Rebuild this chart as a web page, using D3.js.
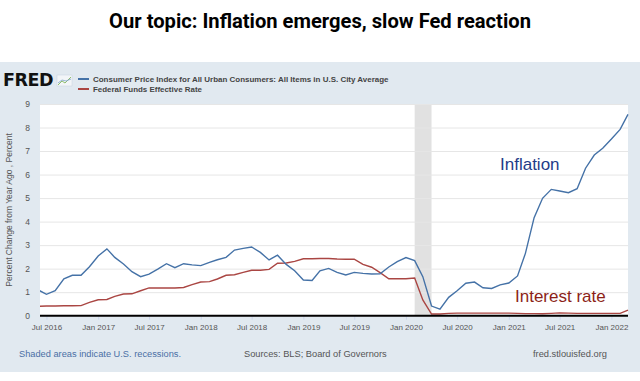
<!DOCTYPE html>
<html><head><meta charset="utf-8">
<script src="https://cdn.jsdelivr.net/npm/d3@7/dist/d3.min.js"></script>
<style>html,body{margin:0;padding:0;background:#fff;} svg{display:block;font-family:"Liberation Sans",Arial,sans-serif;}</style>
</head><body><svg id="c" width="640" height="381"></svg>
<script>
const months = [
 "2016-06","2016-07","2016-08","2016-09","2016-10","2016-11","2016-12",
 "2017-01","2017-02","2017-03","2017-04","2017-05","2017-06","2017-07","2017-08","2017-09","2017-10","2017-11","2017-12",
 "2018-01","2018-02","2018-03","2018-04","2018-05","2018-06","2018-07","2018-08","2018-09","2018-10","2018-11","2018-12",
 "2019-01","2019-02","2019-03","2019-04","2019-05","2019-06","2019-07","2019-08","2019-09","2019-10","2019-11","2019-12",
 "2020-01","2020-02","2020-03","2020-04","2020-05","2020-06","2020-07","2020-08","2020-09","2020-10","2020-11","2020-12",
 "2021-01","2021-02","2021-03","2021-04","2021-05","2021-06","2021-07","2021-08","2021-09","2021-10","2021-11","2021-12",
 "2022-01","2022-02","2022-03"];
const cpiYoY = [
 1.10,0.91,1.06,1.57,1.72,1.72,2.08,
 2.54,2.84,2.48,2.20,1.87,1.66,1.77,1.98,2.21,2.04,2.21,2.16,
 2.13,2.27,2.38,2.48,2.79,2.86,2.92,2.69,2.37,2.57,2.18,1.91,
 1.52,1.50,1.91,2.01,1.84,1.73,1.84,1.80,1.77,1.78,2.07,2.30,
 2.47,2.34,1.66,0.41,0.28,0.78,1.06,1.38,1.43,1.19,1.16,1.31,
 1.39,1.69,2.65,4.17,4.99,5.37,5.30,5.23,5.40,6.27,6.83,7.12,
 7.51,7.92,8.56];
const fedFunds = [
 0.40,0.41,0.41,0.42,0.42,0.43,0.57,
 0.68,0.69,0.82,0.92,0.93,1.06,1.18,1.18,1.18,1.18,1.20,1.32,
 1.43,1.45,1.56,1.72,1.74,1.84,1.93,1.93,1.97,2.23,2.24,2.31,
 2.42,2.42,2.43,2.43,2.41,2.40,2.40,2.18,2.06,1.83,1.57,1.57,
 1.57,1.60,0.67,0.07,0.07,0.10,0.11,0.11,0.11,0.11,0.11,0.11,
 0.11,0.10,0.09,0.09,0.08,0.10,0.12,0.11,0.10,0.10,0.10,0.10,
 0.10,0.10,0.24];
const recession = ["2020-02","2020-04"];
const xTickLabels = ["Jul 2016","Jan 2017","Jul 2017","Jan 2018","Jul 2018","Jan 2019","Jul 2019","Jan 2020","Jul 2020","Jan 2021","Jul 2021","Jan 2022"];
const yTicks = [0,1,2,3,4,5,6,7,8,9];
const seriesNames = ["Consumer Price Index for All Urban Consumers: All Items in U.S. City Average","Federal Funds Effective Rate"];

const parseM = d3.timeParse("%Y-%m");
const parseT = d3.timeParse("%b %Y");
const svg = d3.select("#c");
const L=40,R=628,T=104,B=315.7;

svg.append("rect").attr("x",0).attr("y",62).attr("width",640).attr("height",310).attr("fill","#e1e9f0");
svg.append("rect").attr("x",L).attr("y",T).attr("width",R-L).attr("height",B-T).attr("fill","#fff");

const x = d3.scaleTime().domain([new Date(2016,5,8), new Date(2022,2,1)]).range([L,R]);
const y = d3.scaleLinear().domain([0,9]).range([B,T]);

function fit(sel,w){const n=sel.node();const cw=n.getComputedTextLength();const fs=+sel.attr("font-size");sel.attr("font-size",fs*w/cw);}

// title
const title = svg.append("text").attr("x",320).attr("y",28).attr("text-anchor","middle")
  .attr("font-size",20).attr("font-weight","bold").attr("fill","#000")
  .attr("font-family","Roboto,'Liberation Sans',Arial,sans-serif")
  .text("Our topic: Inflation emerges, slow Fed reaction");
fit(title,422);

// recession
svg.append("rect").attr("x",x(parseM(recession[0]))).attr("y",T)
  .attr("width",x(parseM(recession[1]))-x(parseM(recession[0]))).attr("height",B-T).attr("fill","#e1e1e1");

// grid
const yAxis = d3.axisLeft(y).tickValues(yTicks).tickSize(-(R-L)).tickFormat(d3.format("d")).tickPadding(10);
const gy = svg.append("g").attr("transform",`translate(${L},0)`).call(yAxis);
gy.select(".domain").remove();
gy.selectAll(".tick line").attr("stroke","#e6e6e6").attr("stroke-width",1);
gy.selectAll(".tick text").attr("font-size",8.5).attr("fill","#555").attr("font-family","Liberation Sans, Arial, sans-serif");

// x axis
const xAxis = d3.axisBottom(x).tickValues(xTickLabels.map(parseT)).tickFormat(d3.timeFormat("%b %Y")).tickSize(4).tickPadding(5);
const gx = svg.append("g").attr("transform",`translate(0,${B})`).call(xAxis);
gx.select(".domain").remove();
gx.selectAll(".tick line").attr("stroke","#ccd6eb");
gx.selectAll(".tick text").attr("font-size",8).attr("fill","#555").attr("font-family","Liberation Sans, Arial, sans-serif");

svg.append("defs").append("clipPath").attr("id","clip").append("rect").attr("x",L).attr("y",T-5).attr("width",R-L+1).attr("height",B-T+5);

const line = d3.line().x((d,i)=>x(parseM(months[i]))).y(d=>y(d));
svg.append("path").datum(fedFunds).attr("d",line).attr("fill","none").attr("stroke","#aa4643").attr("stroke-width",1.4).attr("clip-path","url(#clip)");
svg.append("path").datum(cpiYoY).attr("d",line).attr("fill","none").attr("stroke","#4572a7").attr("stroke-width",1.4).attr("clip-path","url(#clip)");

// baseline
svg.append("line").attr("x1",L).attr("x2",R).attr("y1",y(0)).attr("y2",y(0)).attr("stroke","#000").attr("stroke-width",2);

// y title
svg.append("text").attr("transform",`translate(12,${(138+282)/2}) rotate(-90)`).attr("text-anchor","middle")
  .attr("font-size",8.5).attr("fill","#555").text("Percent Change from Year Ago , Percent");

// annotations
svg.append("text").attr("x",500).attr("y",170).attr("font-size",17).attr("fill","#1f3c88").text("Inflation");
svg.append("text").attr("x",515).attr("y",302).attr("font-size",17).attr("fill","#8c1f17").text("Interest rate");

// FRED logo
const logo = svg.append("text").attr("x",3).attr("y",86).attr("font-size",18).attr("font-weight",900)
  .attr("font-family","DejaVu Sans, sans-serif").attr("fill","#111").attr("letter-spacing",-0.5).text("FRED");
fit(logo,50);
const ic = svg.append("g").attr("transform","translate(57,75)");
ic.append("rect").attr("width",15).attr("height",11).attr("fill","#f2f5f8").attr("stroke","#c8d3dd").attr("stroke-width",0.5);
ic.append("polyline").attr("points","1,10 5,6 8,8 14,2").attr("fill","none").attr("stroke","#8fbf6a").attr("stroke-width",1);
ic.append("polyline").attr("points","1,8 5,5 9,6 14,4").attr("fill","none").attr("stroke","#7fa3c8").attr("stroke-width",0.8);

// legend
const colors=["#4572a7","#aa4643"];
seriesNames.forEach((n,i)=>{
  const yy = 79+i*10;
  svg.append("line").attr("x1",78).attr("x2",89).attr("y1",yy).attr("y2",yy).attr("stroke",colors[i]).attr("stroke-width",2);
  const t = svg.append("text").attr("x",93).attr("y",yy+3).attr("font-size",8.5).attr("font-weight","bold").attr("fill","#444").text(n);
  fit(t, i===0?296:109);
});

// footer
const f1 = svg.append("text").attr("x",19).attr("y",357).attr("font-size",9.5).attr("fill","#4a6fa5").text("Shaded areas indicate U.S. recessions.");
fit(f1,162);
const f2 = svg.append("text").attr("x",244).attr("y",357).attr("font-size",9.5).attr("fill","#555").text("Sources: BLS; Board of Governors");
fit(f2,143);
const f3 = svg.append("text").attr("x",533).attr("y",357).attr("font-size",9.5).attr("fill","#555").text("fred.stlouisfed.org");
fit(f3,74);
</script></body></html>
